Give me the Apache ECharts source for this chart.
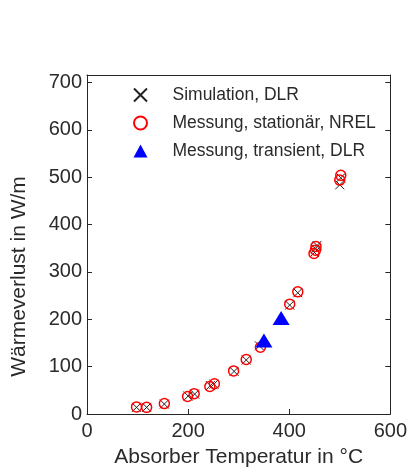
<!DOCTYPE html>
<html>
<head>
<meta charset="utf-8">
<script src="https://cdn.jsdelivr.net/npm/echarts@6/dist/echarts.min.js"></script>
<style>
  html, body { margin: 0; padding: 0; background: #fff; }
  #chart { width: 410px; height: 473px; }
</style>
</head>
<body>
<div id="chart"></div>
<script>
// === Data === //
const xTicks = [0, 200, 400, 600]
const yTicks = [0, 100, 200, 300, 400, 500, 600, 700]

const simulationDLR = [
  [98, 14], [118, 14], [153, 21], [200, 38], [213, 42], [244, 60], [251, 63],
  [291, 90], [315, 114], [341, 144], [401, 230], [417, 256],
  [450, 341], [452, 349], [455, 356], [500, 484], [502, 499]
]
const messungNREL = [
  [98, 15], [118, 14], [153, 22], [199, 37], [212, 43], [243, 58], [252, 64],
  [290, 91], [315, 115], [343, 141], [401, 232], [417, 258],
  [449, 339], [452, 346], [453, 354], [500, 494], [502, 504]
]
const messungTransient = [[350, 155], [384, 203]]

const names = ['Simulation, DLR', 'Messung, stationär, NREL', 'Messung, transient, DLR']

const font = 'Liberation Sans, Arial, sans-serif'
const textColor = '#2a2a2a'
const crossPath = 'path://M0,0L10,10M10,0L0,10'

const chart = echarts.init(document.getElementById('chart'))

const axisLine = { show: true, onZero: false, lineStyle: { color: '#262626', width: 1 } }
const axisTick = { show: true, inside: true, length: 5, lineStyle: { color: '#262626' } }

chart.setOption({
  animation: false,
  backgroundColor: '#fff',
  grid: { left: 87, right: 19, top: 75, bottom: 57 },
  legend: {
    orient: 'vertical',
    left: 128,
    top: 81,
    itemGap: 10,
    itemWidth: 14,
    itemHeight: 13,
    textStyle: { fontFamily: font, fontSize: 17.5, color: textColor, padding: [0, 0, 0, 20] },
    data: names
  },
  xAxis: [
    {
      type: 'value', min: 0, max: 600, interval: 200,
      name: 'Absorber Temperatur in °C',
      nameLocation: 'middle',
      nameGap: 33,
      nameTextStyle: { fontFamily: font, fontSize: 21, color: textColor },
      axisLabel: { fontFamily: font, fontSize: 20, color: textColor, margin: 7,
        formatter: v => xTicks.includes(v) ? String(v) : '' },
      axisLine, axisTick,
      splitLine: { show: false }
    },
    {
      type: 'value', min: 0, max: 600, interval: 200, position: 'top',
      axisLabel: { show: false },
      axisLine,
      axisTick: { show: false },
      splitLine: { show: false }
    }
  ],
  yAxis: [
    {
      type: 'value', min: 0, max: 716, interval: 100,
      name: 'Wärmeverlust in W/m',
      nameLocation: 'middle',
      nameGap: 57,
      nameTextStyle: { fontFamily: font, fontSize: 21, color: textColor, padding: [0, 64, 0, 0] },
      axisLabel: { fontFamily: font, fontSize: 20, color: textColor, margin: 5,
        formatter: v => yTicks.includes(v) ? String(v) : '' },
      axisLine, axisTick,
      splitLine: { show: false }
    },
    {
      type: 'value', min: 0, max: 716, interval: 100, position: 'right',
      axisLabel: { show: false },
      axisLine, axisTick,
      splitLine: { show: false }
    }
  ],
  series: [
    {
      name: names[0],
      type: 'scatter',
      symbol: crossPath,
      symbolSize: 9,
      itemStyle: { color: 'rgba(0,0,0,0)', borderColor: '#222', borderWidth: 1, opacity: 1 },
      data: simulationDLR,
      z: 2
    },
    {
      name: names[1],
      type: 'scatter',
      symbol: 'circle',
      symbolSize: 10,
      itemStyle: { color: 'rgba(0,0,0,0)', borderColor: '#ff0000', borderWidth: 1.5, opacity: 1 },
      data: messungNREL,
      z: 3
    },
    {
      name: names[2],
      type: 'scatter',
      symbol: 'triangle',
      symbolSize: [17, 14],
      itemStyle: { color: '#0000ff', opacity: 1 },
      data: messungTransient,
      z: 4
    }
  ]
})
</script>
</body>
</html>
